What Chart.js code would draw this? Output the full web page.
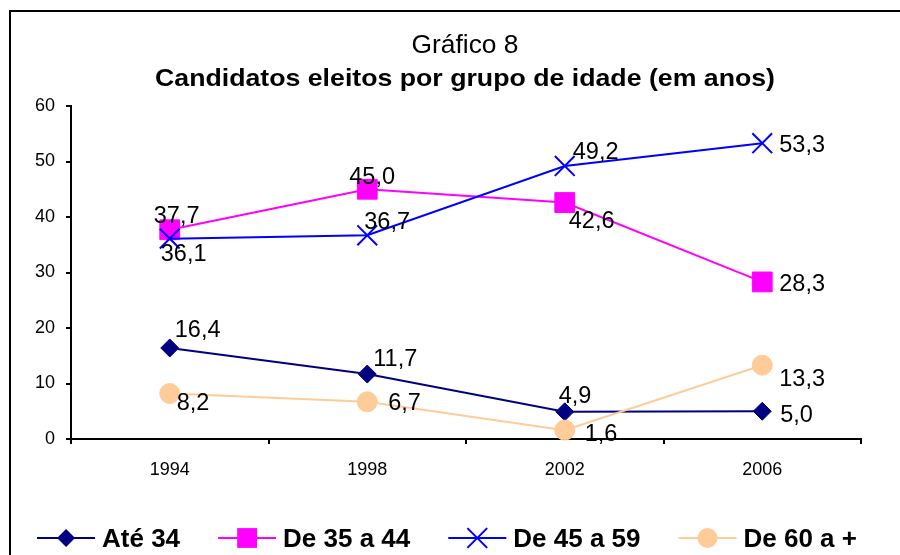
<!DOCTYPE html>
<html>
<head>
<meta charset="utf-8">
<script src="https://cdn.jsdelivr.net/npm/chart.js@4.4.1/dist/chart.umd.min.js"></script>
<style>
  html, body { margin: 0; padding: 0; background: #fff; }
  #wrap { width: 900px; height: 555px; }
</style>
</head>
<body>
<div id="wrap"><canvas id="chart" width="900" height="555"></canvas></div>
<script>
// data
const years = ['1994', '1998', '2002', '2006'];
const ate34 = [16.4, 11.7, 4.9, 5.0];
const de35a44 = [37.7, 45.0, 42.6, 28.3];
const de45a59 = [36.1, 36.7, 49.2, 53.3];
const de60mais = [8.2, 6.7, 1.6, 13.3];
const yTicks = [0, 10, 20, 30, 40, 50, 60];
const seriesNames = ['Até 34', 'De 35 a 44', 'De 45 a 59', 'De 60 a +'];
const titleText = 'Gráfico 8';
const subtitleText = 'Candidatos eleitos por grupo de idade (em anos)';

// where each value label sits relative to its point (dx to text left, dy to text middle)
const labelOffsets = [
  [[5, -19], [6, -17], [-6, -17], [18, 2]],
  [[-16, -15], [-18, -14], [4, 17], [17, 1]],
  [[-9, 14], [-3, -15], [8, -15], [17, 0]],
  [[7, 8], [21, 0], [20, 2], [17, 12]]
];

const FONT = '"Liberation Sans", Arial, Helvetica, sans-serif';

const styles = [
  { color: '#000080', point: 'rectRot', radius: 9 },
  { color: '#FF00FF', point: 'rect', radius: 14 },
  { color: '#0000FF', point: 'crossRot', radius: 14 },
  { color: '#FFCC99', point: 'circle', radius: 10 }
];

const seriesData = [ate34, de35a44, de45a59, de60mais];

function fmt(v) {
  return v.toFixed(1).replace('.', ',');
}

// draws text squeezed/stretched to a width
function fittedText(ctx, text, font, x, y, targetW, align) {
  ctx.save();
  ctx.font = font;
  const w = ctx.measureText(text).width;
  const sx = targetW / w;
  let left = x;
  if (align === 'center') left = x - targetW / 2;
  ctx.translate(left, y);
  ctx.scale(sx, 1);
  ctx.textAlign = 'left';
  ctx.textBaseline = 'alphabetic';
  ctx.fillText(text, 0, 0);
  ctx.restore();
}

function drawMarker(ctx, st, x, y) {
  const r = st.radius;
  ctx.save();
  ctx.fillStyle = st.color;
  ctx.strokeStyle = st.color;
  ctx.beginPath();
  if (st.point === 'rectRot') {
    ctx.moveTo(x - r, y); ctx.lineTo(x, y - r); ctx.lineTo(x + r, y); ctx.lineTo(x, y + r);
    ctx.closePath(); ctx.fill();
  } else if (st.point === 'rect') {
    const s = r * Math.SQRT1_2;
    ctx.rect(x - s, y - s, 2 * s, 2 * s); ctx.fill();
  } else if (st.point === 'crossRot') {
    const s = r * Math.SQRT1_2;
    ctx.lineWidth = 2;
    ctx.moveTo(x - s, y - s); ctx.lineTo(x + s, y + s);
    ctx.moveTo(x - s, y + s); ctx.lineTo(x + s, y - s);
    ctx.stroke();
  } else {
    ctx.arc(x, y, r, 0, Math.PI * 2); ctx.fill();
  }
  ctx.restore();
}

const framePlugin = {
  id: 'frame',
  beforeDraw(chart) {
    const ctx = chart.ctx;
    ctx.save();
    ctx.fillStyle = '#fff';
    ctx.fillRect(0, 0, chart.width, chart.height);
    ctx.strokeStyle = '#000';
    ctx.lineWidth = 2;
    ctx.strokeRect(10, 11, 1000, 1000);
    ctx.restore();
  }
};

const titlePlugin = {
  id: 'titles',
  afterDraw(chart) {
    const ctx = chart.ctx;
    ctx.save();
    ctx.fillStyle = '#000';
    fittedText(ctx, titleText, '25px ' + FONT, 465, 53, 107, 'center');
    fittedText(ctx, subtitleText, 'bold 24px ' + FONT, 465, 86, 620, 'center');
    ctx.restore();
  }
};

const valueLabelPlugin = {
  id: 'valueLabels',
  afterDatasetsDraw(chart) {
    const ctx = chart.ctx;
    ctx.save();
    ctx.fillStyle = '#000';
    ctx.font = '23.5px ' + FONT;
    ctx.textAlign = 'left';
    ctx.textBaseline = 'alphabetic';
    chart.data.datasets.forEach((ds, i) => {
      const meta = chart.getDatasetMeta(i);
      meta.data.forEach((pt, j) => {
        const off = labelOffsets[i][j];
        ctx.fillText(fmt(ds.data[j]), pt.x + off[0], pt.y + off[1] + 23.5 * 0.36);
      });
    });
    ctx.restore();
  }
};

const legendPlugin = {
  id: 'bottomLegend',
  afterDraw(chart) {
    const ctx = chart.ctx;
    const lineW = 58, textGap = 7, itemGap = 38;
    const font = 'bold 26px ' + FONT;
    ctx.save();
    ctx.font = font;
    const widths = seriesNames.map(n => ctx.measureText(n).width);
    const total = widths.reduce((a, b) => a + b, 0) + seriesNames.length * (lineW + textGap) + itemGap * (seriesNames.length - 1);
    let x = 447 - total / 2;
    const y = 538;
    seriesNames.forEach((name, i) => {
      const st = styles[i];
      ctx.strokeStyle = st.color;
      ctx.lineWidth = 2;
      ctx.beginPath();
      ctx.moveTo(x, y);
      ctx.lineTo(x + lineW, y);
      ctx.stroke();
      drawMarker(ctx, st, x + lineW / 2, y);
      ctx.fillStyle = '#000';
      ctx.font = font;
      ctx.textBaseline = 'alphabetic';
      ctx.fillText(name, x + lineW + textGap, y + 26 * 0.36);
      x += lineW + textGap + widths[i] + itemGap;
    });
    ctx.restore();
  }
};

const axisStyle = {
  grid: { drawOnChartArea: false, drawTicks: true, tickLength: 5, color: '#000', lineWidth: 2 },
  border: { color: '#000', width: 2 }
};

new Chart(document.getElementById('chart'), {
  type: 'line',
  data: {
    labels: years,
    datasets: seriesData.map((d, i) => ({
      label: seriesNames[i],
      data: d,
      borderColor: styles[i].color,
      backgroundColor: styles[i].color,
      borderWidth: 2,
      pointStyle: styles[i].point,
      pointRadius: styles[i].radius,
      pointHoverRadius: styles[i].radius,
      pointBackgroundColor: styles[i].color,
      pointBorderColor: styles[i].color,
      pointBorderWidth: styles[i].point === 'crossRot' ? 2 : 1,
      tension: 0,
      fill: false,
      clip: false,
      order: seriesData.length - i
    }))
  },
  options: {
    responsive: false,
    animation: false,
    devicePixelRatio: 1,
    layout: { padding: { left: 10, right: 39, top: 106, bottom: 76 } },
    plugins: {
      legend: { display: false },
      title: { display: false },
      tooltip: { enabled: false }
    },
    scales: {
      x: {
        type: 'category',
        offset: true,
        grid: Object.assign({}, axisStyle.grid, { offset: true }),
        border: axisStyle.border,
        ticks: { color: '#000', font: { family: FONT, size: 18 }, padding: 15, maxRotation: 0 },
        afterFit(scale) { scale.height = 40; }
      },
      y: {
        min: 0,
        max: 60,
        grid: axisStyle.grid,
        border: axisStyle.border,
        ticks: { color: '#000', font: { family: FONT, size: 18 }, padding: 11 },
        afterBuildTicks(scale) { scale.ticks = yTicks.map(v => ({ value: v })); },
        afterFit(scale) { scale.width = 61; }
      }
    }
  },
  plugins: [framePlugin, titlePlugin, valueLabelPlugin, legendPlugin]
});
</script>
</body>
</html>
